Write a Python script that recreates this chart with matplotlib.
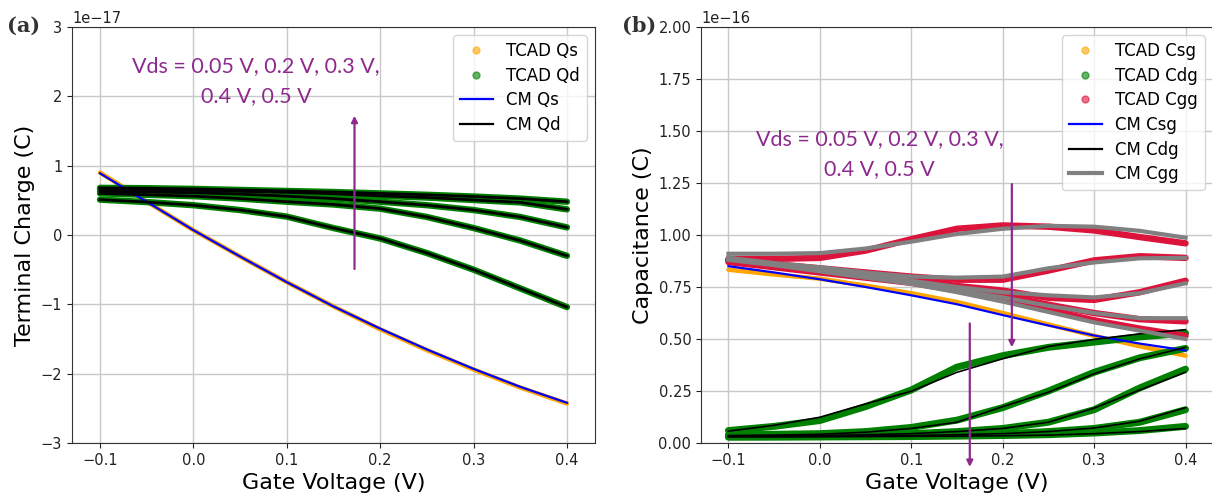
import numpy as np
import matplotlib
matplotlib.use("Agg")
import matplotlib.pyplot as plt
from matplotlib.lines import Line2D

# ---------------- data ----------------
gate_v = [-0.1, -0.05, 0.0, 0.05, 0.1, 0.15, 0.2, 0.25, 0.3, 0.35, 0.4]

# Panel (a): terminal charge, units of 1e-17 C
qs_tcad = [0.90, 0.48, 0.07, -0.31, -0.68, -1.03, -1.36, -1.66, -1.94, -2.20, -2.43]
qs_cm = [0.89, 0.48, 0.07, -0.31, -0.68, -1.03, -1.35, -1.65, -1.93, -2.19, -2.42]
qd_vds = [
    [0.68, 0.675, 0.665, 0.65, 0.635, 0.62, 0.60, 0.58, 0.555, 0.525, 0.48],
    [0.66, 0.655, 0.645, 0.63, 0.615, 0.595, 0.565, 0.54, 0.505, 0.47, 0.37],
    [0.63, 0.62, 0.61, 0.59, 0.56, 0.525, 0.48, 0.43, 0.36, 0.26, 0.11],
    [0.60, 0.58, 0.56, 0.525, 0.48, 0.44, 0.38, 0.26, 0.10, -0.08, -0.30],
    [0.51, 0.475, 0.43, 0.36, 0.265, 0.10, -0.05, -0.26, -0.50, -0.77, -1.04],
]

# Panel (b): capacitance, units of 1e-16
csg_tcad = [0.833, 0.81, 0.79, 0.757, 0.72, 0.678, 0.625, 0.57, 0.515, 0.465, 0.42]
csg_cm = [0.85, 0.82, 0.787, 0.75, 0.71, 0.667, 0.615, 0.565, 0.517, 0.478, 0.445]

cgg_tcad = [
    [0.885, 0.885, 0.89, 0.925, 0.98, 1.03, 1.046, 1.04, 1.022, 0.99, 0.96],
    [0.88, 0.86, 0.84, 0.82, 0.80, 0.785, 0.785, 0.829, 0.878, 0.898, 0.89],
    [0.88, 0.855, 0.83, 0.805, 0.78, 0.755, 0.733, 0.698, 0.688, 0.725, 0.78],
    [0.875, 0.85, 0.825, 0.80, 0.775, 0.745, 0.71, 0.665, 0.625, 0.595, 0.585],
    [0.87, 0.845, 0.82, 0.795, 0.77, 0.735, 0.69, 0.64, 0.59, 0.55, 0.515],
]
cgg_cm = [
    [0.91, 0.91, 0.913, 0.935, 0.968, 1.005, 1.03, 1.044, 1.04, 1.02, 0.987],
    [0.89, 0.865, 0.845, 0.82, 0.80, 0.795, 0.80, 0.84, 0.868, 0.888, 0.89],
    [0.885, 0.86, 0.835, 0.81, 0.78, 0.75, 0.725, 0.71, 0.70, 0.72, 0.768],
    [0.89, 0.86, 0.83, 0.80, 0.77, 0.735, 0.70, 0.66, 0.625, 0.60, 0.60],
    [0.88, 0.855, 0.825, 0.795, 0.765, 0.725, 0.68, 0.63, 0.58, 0.54, 0.50],
]
cdg_tcad = [
    [0.06, 0.08, 0.108, 0.175, 0.255, 0.365, 0.42, 0.46, 0.485, 0.51, 0.528],
    [0.04, 0.042, 0.045, 0.055, 0.075, 0.11, 0.17, 0.25, 0.34, 0.41, 0.455],
    [0.033, 0.034, 0.036, 0.04, 0.045, 0.055, 0.07, 0.10, 0.16, 0.265, 0.355],
    [0.03, 0.031, 0.032, 0.034, 0.036, 0.04, 0.045, 0.055, 0.07, 0.10, 0.16],
    [0.028, 0.028, 0.029, 0.03, 0.031, 0.033, 0.036, 0.04, 0.048, 0.06, 0.08],
]
cdg_cm = [
    [0.057, 0.085, 0.124, 0.188, 0.249, 0.34, 0.405, 0.464, 0.498, 0.525, 0.545],
    [0.036, 0.038, 0.042, 0.052, 0.07, 0.10, 0.175, 0.244, 0.333, 0.405, 0.46],
    [0.033, 0.034, 0.036, 0.04, 0.045, 0.055, 0.07, 0.10, 0.168, 0.255, 0.34],
    [0.03, 0.031, 0.032, 0.034, 0.036, 0.04, 0.045, 0.055, 0.072, 0.105, 0.17],
    [0.03, 0.03, 0.03, 0.031, 0.032, 0.033, 0.035, 0.038, 0.045, 0.055, 0.07],
]

vds_line1 = "Vds = 0.05 V, 0.2 V, 0.3 V,"
vds_line2 = "0.4 V, 0.5 V"

# ---------------- style ----------------
ORANGE = "#FFA500"
GREEN = "#008000"
RED = "#DC143C"
BLUE = "#0000FF"
GRAY = "#808080"
PURPLE = "#8E2A8E"

plt.rcParams["font.family"] = ["DejaVu Sans"]
plt.rcParams["xtick.labelsize"] = 10.5
plt.rcParams["ytick.labelsize"] = 10.5
plt.rcParams["xtick.color"] = "#222222"
plt.rcParams["ytick.color"] = "#222222"
plt.rcParams["axes.edgecolor"] = "#333333"

fig = plt.figure(figsize=(12.12, 4.99), dpi=100)
ax1 = fig.add_axes([0.0594, 0.1122, 0.4315, 0.8337])
ax2 = fig.add_axes([0.5784, 0.1122, 0.4224, 0.8337])

x = np.array(gate_v)

# ---- panel (a) ----
s17 = 1e-17
ax1.plot(x, np.array(qs_tcad) * s17, color=ORANGE, lw=3.2, solid_capstyle="round", zorder=2)
for q in qd_vds:
    ax1.plot(x, np.array(q) * s17, color=GREEN, lw=4.6, solid_capstyle="round", zorder=2)
ax1.plot(x, np.array(qs_cm) * s17, color=BLUE, lw=1.6, zorder=3)
for q in qd_vds:
    ax1.plot(x, np.array(q) * s17, color="black", lw=2.0, zorder=3)

ax1.set_xlim(-0.13, 0.43)
ax1.set_ylim(-3e-17, 3e-17)
ax1.set_xticks([-0.1, 0.0, 0.1, 0.2, 0.3, 0.4])
ax1.set_yticks(np.arange(-3, 4) * s17)
ax1.grid(True, color="#c8c8c8", lw=1.0)
ax1.set_axisbelow(True)
ax1.set_xlabel("Gate Voltage (V)", fontsize=16)
ax1.set_ylabel("Terminal Charge (C)", fontsize=16)

h1 = [
    Line2D([], [], marker="o", ls="", color=ORANGE, alpha=0.6, markersize=5),
    Line2D([], [], marker="o", ls="", color=GREEN, alpha=0.6, markersize=5),
    Line2D([], [], color=BLUE, lw=1.6),
    Line2D([], [], color="black", lw=1.6),
]
ax1.legend(h1, ["TCAD Qs", "TCAD Qd", "CM Qs", "CM Qd"], loc="upper right",
           fontsize=12, labelspacing=0.4)

ax1.text(-0.0657, 2.35 * s17, vds_line1, color=PURPLE, fontsize=15.5, family="Lato",
         ha="left", va="baseline")
ax1.text(0.0084, 1.92 * s17, vds_line2, color=PURPLE, fontsize=15.5, family="Lato",
         ha="left", va="baseline")
ax1.annotate("", xy=(0.1725, 1.72 * s17), xytext=(0.1725, -0.49 * s17),
             arrowprops=dict(arrowstyle="-|>", color=PURPLE, lw=1.6, mutation_scale=9,
                             shrinkA=0, shrinkB=0), zorder=5)

# ---- panel (b) ----
s16 = 1e-16
ax2.plot(x, np.array(csg_tcad) * s16, color=ORANGE, lw=3.2, solid_capstyle="round", zorder=2)
for c in cdg_tcad:
    ax2.plot(x, np.array(c) * s16, color=GREEN, lw=5.0, solid_capstyle="round", zorder=2)
for c in cgg_tcad:
    ax2.plot(x, np.array(c) * s16, color=RED, lw=4.6, solid_capstyle="round", zorder=2)
ax2.plot(x, np.array(csg_cm) * s16, color=BLUE, lw=1.6, zorder=3)
for c in cdg_cm:
    ax2.plot(x, np.array(c) * s16, color="black", lw=1.2, zorder=3)
for c in cgg_cm:
    ax2.plot(x, np.array(c) * s16, color=GRAY, lw=3.0, zorder=3)

ax2.set_xlim(-0.13, 0.43)
ax2.set_ylim(0, 2e-16)
ax2.set_xticks([-0.1, 0.0, 0.1, 0.2, 0.3, 0.4])
ax2.set_yticks(np.arange(0, 9) * 0.25 * s16)
ax2.grid(True, color="#c8c8c8", lw=1.0)
ax2.set_axisbelow(True)
ax2.set_xlabel("Gate Voltage (V)", fontsize=16)
ax2.set_ylabel("Capacitance (C)", fontsize=16)

h2 = [
    Line2D([], [], marker="o", ls="", color=ORANGE, alpha=0.6, markersize=5),
    Line2D([], [], marker="o", ls="", color=GREEN, alpha=0.6, markersize=5),
    Line2D([], [], marker="o", ls="", color=RED, alpha=0.6, markersize=5),
    Line2D([], [], color=BLUE, lw=1.6),
    Line2D([], [], color="black", lw=1.6),
    Line2D([], [], color=GRAY, lw=3.0),
]
ax2.legend(h2, ["TCAD Csg", "TCAD Cdg", "TCAD Cgg", "CM Csg", "CM Cdg", "CM Cgg"],
           loc="upper right", fontsize=12, labelspacing=0.4)

ax2.text(-0.0694, 1.43 * s16, vds_line1, color=PURPLE, fontsize=15.5, family="Lato",
         ha="left", va="baseline")
ax2.text(0.004, 1.286 * s16, vds_line2, color=PURPLE, fontsize=15.5, family="Lato",
         ha="left", va="baseline")
ax2.annotate("", xy=(0.21, 0.46 * s16), xytext=(0.21, 1.245 * s16),
             arrowprops=dict(arrowstyle="-|>", color=PURPLE, lw=1.6, mutation_scale=9,
                             shrinkA=0, shrinkB=0), zorder=5)
ax2.annotate("", xy=(0.164, -0.115 * s16), xytext=(0.164, 0.575 * s16),
             arrowprops=dict(arrowstyle="-|>", color=PURPLE, lw=1.6, mutation_scale=9,
                             shrinkA=0, shrinkB=0), zorder=5, annotation_clip=False)

# panel tags
fig.text(0.006, 0.936, "(a)", fontsize=15, fontweight="bold", family="DejaVu Serif",
         color="#333333", ha="left", va="baseline")
fig.text(0.513, 0.936, "(b)", fontsize=15, fontweight="bold", family="DejaVu Serif",
         color="#333333", ha="left", va="baseline")

fig.savefig("out.png", dpi=100)
